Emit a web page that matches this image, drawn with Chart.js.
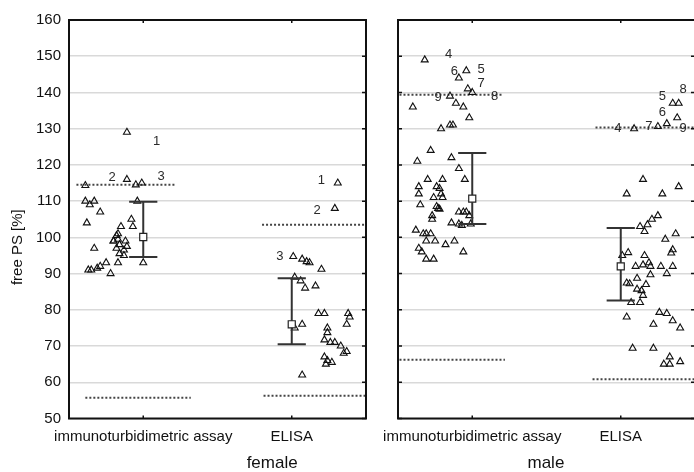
<!DOCTYPE html>
<html>
<head>
<meta charset="utf-8">
<script src="https://cdn.jsdelivr.net/npm/chart.js@4.4.1/dist/chart.umd.min.js"></script>
<style>
  html, body { margin: 0; padding: 0; background: #fff; overflow: hidden; }
  #wrap { position: relative; width: 694px; height: 472px; overflow: hidden; }
  #femaleChart { position: absolute; left: 0; top: 0; }
  #maleChart { position: absolute; left: 372px; top: 0; }
</style>
</head>
<body>
<div id="wrap">
  <canvas id="femaleChart" width="372" height="472"></canvas>
  <canvas id="maleChart" width="324" height="472"></canvas>
</div>
<script>
const categories = ['immunoturbidimetric assay', 'ELISA'];
const categoryCenters = [0.5, 1.5];
const groups = ['female', 'male'];
const yTickValues = [50, 60, 70, 80, 90, 100, 110, 120, 130, 140, 150, 160];
const yTitle = 'free PS [%]';

// female - immunoturbidimetric assay (value, horizontal jitter in category units)
const femaleImmunoValues = [114.3, 110, 109, 110, 107, 104, 97, 91, 91, 91.5, 92, 93, 90, 93, 93,
  129, 116, 114.5, 115, 110, 105, 103, 103, 101, 99, 99.5, 99, 97, 96.5, 98, 99, 95, 95.5, 97.5, 100.5];
const femaleImmunoJitter = [-0.39, -0.39, -0.36, -0.33, -0.29, -0.38, -0.33, -0.37, -0.35, -0.31, -0.29, -0.25, -0.22, -0.17, -0.00,
  -0.11, -0.11, -0.05, -0.01, -0.04, -0.08, -0.07, -0.15, -0.17, -0.20, -0.17, -0.12, -0.18, -0.13, -0.16, -0.20, -0.13, -0.16, -0.11, -0.18];

// female - ELISA
const femaleElisaValues = [115, 108, 94.7, 94, 93.3, 93, 91.2, 89, 88, 86, 86.6, 76, 75, 79, 79, 79,
  76, 75, 73.7, 71.7, 71, 71, 70, 68, 68.5, 67, 66, 65.5, 65, 62, 78];
const femaleElisaJitter = [0.31, 0.29, 0.01, 0.07, 0.10, 0.12, 0.20, 0.02, 0.06, 0.09, 0.16, 0.07, 0.02, 0.18, 0.22, 0.38,
  0.37, 0.24, 0.24, 0.22, 0.26, 0.29, 0.33, 0.35, 0.37, 0.22, 0.24, 0.27, 0.23, 0.07, 0.39];

// male - immunoturbidimetric assay
const maleImmunoValues = [149, 144, 146, 141, 140, 139, 136, 137, 136, 133, 130, 131, 131, 124, 121, 122, 119, 116,
  116, 116, 114, 112, 114, 113.5, 112, 111, 111, 109, 108.5, 108, 107.8, 106, 105, 107, 107, 107, 106,
  104, 103.7, 103.3, 103.7, 102, 101, 101, 101, 99, 99, 98, 99, 97, 96, 94, 94, 96];
const maleImmunoJitter = [-0.32, -0.09, -0.04, -0.03, 0.00, -0.15, -0.40, -0.11, -0.06, -0.02, -0.21, -0.15, -0.13, -0.28, -0.37, -0.14, -0.09, -0.05,
  -0.30, -0.20, -0.36, -0.36, -0.24, -0.22, -0.21, -0.26, -0.20, -0.35, -0.24, -0.23, -0.22, -0.27, -0.27, -0.09, -0.06, -0.04, -0.02,
  -0.14, -0.09, -0.07, -0.01, -0.38, -0.33, -0.31, -0.28, -0.31, -0.25, -0.18, -0.12, -0.36, -0.34, -0.31, -0.26, -0.06];

// male - ELISA
const maleElisaValues = [137, 137, 133, 130.6, 131.4, 130, 116, 112, 112, 114, 106, 105, 103.5, 103, 101.6, 99.5, 101,
  96.6, 95.7, 95, 95.8, 95, 92, 92.4, 93, 92, 89.7, 92, 92, 90, 88.7, 87.4, 87.2, 85.7, 85.3, 87, 84,
  82, 82, 78, 79.3, 79, 77, 75, 76, 69.4, 69.4, 67, 65, 65, 65.7];
const maleElisaJitter = [0.35, 0.39, 0.38, 0.25, 0.31, 0.09, 0.15, 0.04, 0.28, 0.39, 0.25, 0.21, 0.18, 0.13, 0.16, 0.30, 0.37,
  0.35, 0.34, 0.01, 0.05, 0.16, 0.10, 0.15, 0.19, 0.20, 0.20, 0.27, 0.35, 0.31, 0.11, 0.04, 0.06, 0.11, 0.14, 0.17, 0.15,
  0.07, 0.13, 0.04, 0.26, 0.31, 0.35, 0.40, 0.22, 0.08, 0.22, 0.33, 0.29, 0.33, 0.40];

// mean and whiskers per category
const femaleMeans = [100.1, 76.0];
const femaleUpper = [109.8, 88.7];
const femaleLower = [94.6, 70.5];
const maleMeans = [110.7, 92.0];
const maleUpper = [123.3, 102.6];
const maleLower = [103.7, 82.6];

// dotted reference limits per category: [upper, lower] and their x spans
const femaleRefValues = [[114.5, 55.7], [103.5, 56.3]];
const femaleRefSpans = [[[-0.45, 0.22], [-0.39, 0.32]], [[-0.20, 0.5], [-0.19, 0.5]]];
const maleRefValues = [[139.4, 66.2], [130.3, 60.8]];
const maleRefSpans = [[[-0.49, 0.21], [-0.49, 0.22]], [[-0.17, 0.5], [-0.19, 0.5]]];

// numbered outlier labels
const femaleLabelText = [['1', '2', '3'], ['1', '2', '3']];
const femaleLabelValues = [[126.5, 116.6, 116.8], [115.7, 107.4, 94.7]];
const femaleLabelJitter = [[0.09, -0.21, 0.12], [0.20, 0.17, -0.08]];
const maleLabelText = [['4', '6', '5', '7', '9', '8'], ['8', '5', '6', '7', '9', '4']];
const maleLabelValues = [[150.5, 145.9, 146.3, 142.4, 138.5, 138.9], [140.8, 139, 134.5, 130.6, 130.2, 130.2]];
const maleLabelJitter = [[-0.16, -0.12, 0.06, 0.06, -0.23, 0.15], [0.42, 0.28, 0.28, 0.19, 0.42, -0.02]];

const FONT = '"Liberation Sans", Arial, sans-serif';
const CAP = 0.095;

function points(values, jitter, ci) {
  return values.map((v, i) => ({ x: categoryCenters[ci] + jitter[i], y: v }));
}

function whiskers(upper, lower) {
  const d = [];
  categoryCenters.forEach((c, i) => {
    d.push({ x: c, y: lower[i] }, { x: c, y: upper[i] }, { x: c, y: null });
    d.push({ x: c - CAP, y: upper[i] }, { x: c + CAP, y: upper[i] }, { x: c + CAP, y: null });
    d.push({ x: c - CAP, y: lower[i] }, { x: c + CAP, y: lower[i] }, { x: c + CAP, y: null });
  });
  return d;
}

function refLines(values, spans) {
  const d = [];
  categoryCenters.forEach((c, i) => {
    values[i].forEach((v, k) => {
      d.push({ x: c + spans[i][k][0], y: v }, { x: c + spans[i][k][1], y: v }, { x: c + spans[i][k][1], y: null });
    });
  });
  return d;
}

function labelItems(text, values, jitter) {
  const out = [];
  text.forEach((row, ci) => row.forEach((t, i) => out.push({ text: t, x: categoryCenters[ci] + jitter[ci][i], y: values[ci][i] })));
  return out;
}

const triangleStyle = {
  pointStyle: 'triangle', pointRadius: 4, pointBorderWidth: 1.1,
  pointBorderColor: '#111', pointBackgroundColor: 'rgba(0,0,0,0)'
};

function buildDatasets(means, upper, lower, refVals, refSpans, immuno, elisa) {
  return [
    { type: 'scatter', data: categoryCenters.map((c, i) => ({ x: c, y: means[i] })),
      pointStyle: 'rect', pointRadius: 5, pointBorderWidth: 1.2, pointBorderColor: '#222', pointBackgroundColor: '#fff' },
    { type: 'line', data: whiskers(upper, lower), borderColor: '#333', borderWidth: 2, pointRadius: 0, spanGaps: false, fill: false },
    Object.assign({ type: 'scatter', data: immuno }, triangleStyle),
    Object.assign({ type: 'scatter', data: elisa }, triangleStyle),
    { type: 'line', data: refLines(refVals, refSpans), borderColor: '#444', borderWidth: 2, borderDash: [2, 2],
      pointRadius: 0, spanGaps: false, fill: false }
  ];
}

// frame, inner ticks, point labels, group label and y title
const panelDecor = {
  id: 'panelDecor',
  afterDatasetsDraw(chart, args, opts) {
    const { ctx, chartArea: a, scales: { x, y } } = chart;
    ctx.save();
    ctx.strokeStyle = '#111';
    ctx.lineWidth = 2;
    ctx.strokeRect(a.left, a.top, a.right - a.left, a.bottom - a.top);
    ctx.lineWidth = 1.5;
    ctx.beginPath();
    yTickValues.forEach(v => {
      const py = y.getPixelForValue(v);
      opts.tickSides.forEach(side => {
        const px = side === 'left' ? a.left : a.right;
        ctx.moveTo(px, py);
        ctx.lineTo(px + (side === 'left' ? 4 : -4), py);
      });
    });
    categoryCenters.forEach(c => {
      const px = x.getPixelForValue(c);
      ctx.moveTo(px, a.top); ctx.lineTo(px, a.top + 3);
      ctx.moveTo(px, a.bottom); ctx.lineTo(px, a.bottom - 3);
    });
    ctx.stroke();

    ctx.fillStyle = '#2a2a2a';
    ctx.font = '13px ' + FONT;
    ctx.textAlign = 'center';
    ctx.textBaseline = 'middle';
    opts.labels.forEach(l => ctx.fillText(l.text, x.getPixelForValue(l.x), y.getPixelForValue(l.y)));

    ctx.fillStyle = '#111';
    ctx.font = '17px ' + FONT;
    ctx.fillText(opts.group, a.left + (a.right - a.left) * opts.groupAt, a.bottom + 45);

    if (opts.yTitle) {
      ctx.font = '15px ' + FONT;
      ctx.translate(18, a.top + (a.bottom - a.top) * 0.57);
      ctx.rotate(-Math.PI / 2);
      ctx.fillText(opts.yTitle, 0, 0);
    }
    ctx.restore();
  }
};

function panelOptions(showY, yWidth, padRight, decor) {
  return {
    responsive: false,
    animation: false,
    devicePixelRatio: 1,
    layout: { autoPadding: false, padding: { left: 0, right: padRight, top: 20, bottom: 0 } },
    plugins: { legend: { display: false }, tooltip: { enabled: false }, panelDecor: decor },
    scales: {
      x: {
        type: 'linear', min: 0, max: 2,
        afterBuildTicks: s => { s.ticks = categoryCenters.map(c => ({ value: c })); },
        afterFit: s => { s.height = 53.5; s.paddingLeft = 0; s.paddingRight = 0; },
        grid: { display: false, drawTicks: false },
        border: { display: false },
        ticks: {
          autoSkip: false, maxRotation: 0, padding: 9, color: '#111',
          font: { family: FONT, size: 15 },
          callback: v => categories[categoryCenters.indexOf(v)]
        }
      },
      y: {
        min: 50, max: 160,
        afterBuildTicks: s => { s.ticks = yTickValues.map(v => ({ value: v })); },
        afterFit: s => { s.width = yWidth; s.paddingTop = 0; s.paddingBottom = 0; },
        grid: { color: '#d9d9d9', lineWidth: 1.5, drawTicks: false },
        border: { display: false },
        ticks: { display: showY, padding: 8, color: '#111', font: { family: FONT, size: 15 } }
      }
    }
  };
}

new Chart(document.getElementById('femaleChart'), {
  type: 'scatter',
  data: {
    datasets: buildDatasets(femaleMeans, femaleUpper, femaleLower, femaleRefValues, femaleRefSpans,
      points(femaleImmunoValues, femaleImmunoJitter, 0), points(femaleElisaValues, femaleElisaJitter, 1))
  },
  options: panelOptions(true, 69, 6, {
    tickSides: ['right'], group: groups[0], groupAt: 0.684, yTitle: yTitle,
    labels: labelItems(femaleLabelText, femaleLabelValues, femaleLabelJitter)
  }),
  plugins: [panelDecor]
});

new Chart(document.getElementById('maleChart'), {
  type: 'scatter',
  data: {
    datasets: buildDatasets(maleMeans, maleUpper, maleLower, maleRefValues, maleRefSpans,
      points(maleImmunoValues, maleImmunoJitter, 0), points(maleElisaValues, maleElisaJitter, 1))
  },
  options: panelOptions(false, 26, 1, {
    tickSides: ['left', 'right'], group: groups[1], groupAt: 0.498, yTitle: null,
    labels: labelItems(maleLabelText, maleLabelValues, maleLabelJitter)
  }),
  plugins: [panelDecor]
});
</script>
</body>
</html>
